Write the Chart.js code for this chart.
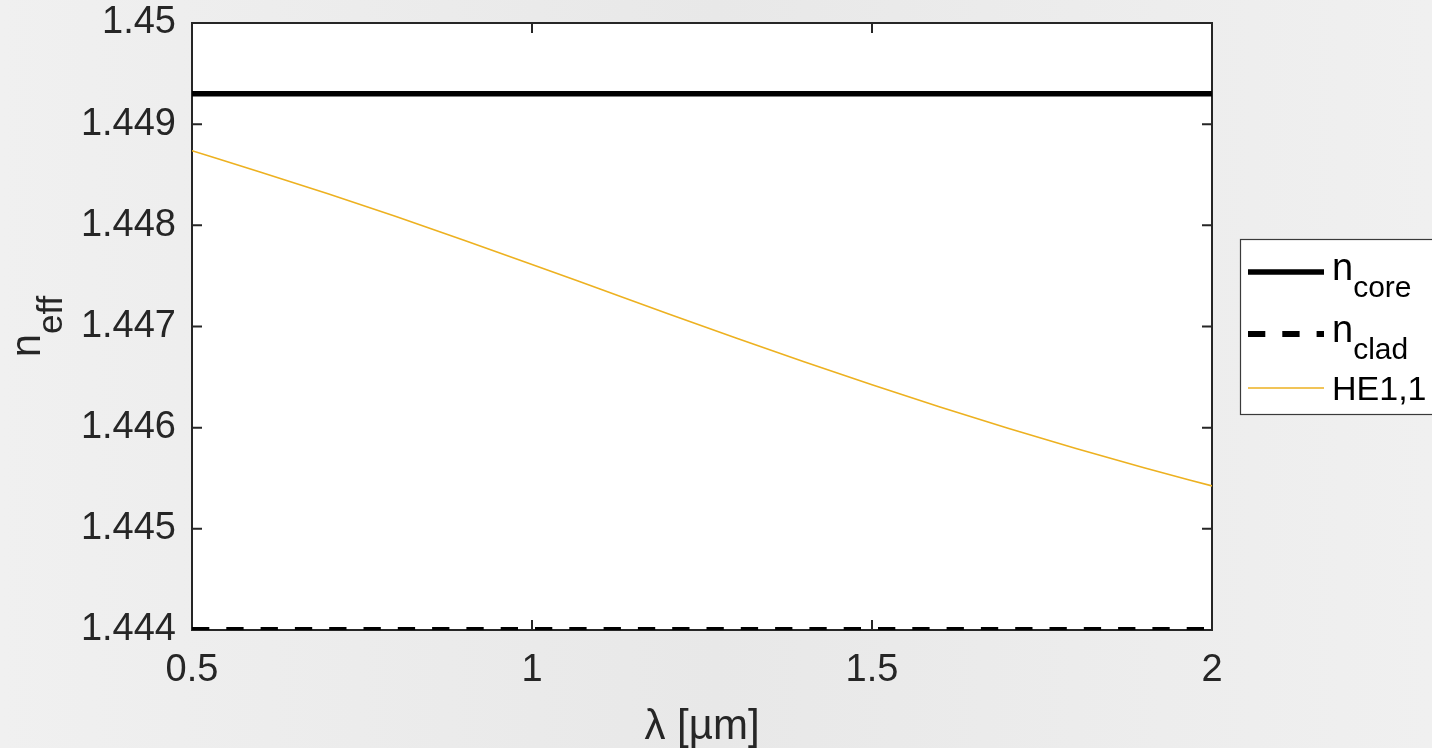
<!DOCTYPE html>
<html><head><meta charset="utf-8">
<script src="https://cdn.jsdelivr.net/npm/chart.js@4"></script>
<style>
html,body{margin:0;padding:0;background:#ececec;overflow:hidden}
#wrap{width:1432px;height:748px;position:relative}
canvas{display:block}
</style>
</head><body><div id="wrap"><canvas id="c" width="1432" height="748"></canvas></div>
<script>
// ---- data ----
const wavelength = [0.5, 0.6, 0.7, 0.8, 0.9, 1.0, 1.1, 1.2, 1.3, 1.4, 1.5, 1.6, 1.7, 1.8, 1.9, 2.0];
const nCoreValue = 1.4493;
const nCladValue = 1.444;
const he11 = [1.448738, 1.448528, 1.448313, 1.448088, 1.447853, 1.447613, 1.447370, 1.447127,
              1.446887, 1.446652, 1.446424, 1.446204, 1.445994, 1.445794, 1.445604, 1.445424];
const xTicks = [0.5, 1, 1.5, 2];
const yTicks = [1.444, 1.445, 1.446, 1.447, 1.448, 1.449, 1.45];
const seriesLabels = ['n_{core}', 'n_{clad}', 'HE1,1'];
const xTitle = 'λ [µm]';
const yTitle = 'n_{eff}';

const FONT = '"Liberation Sans", Arial, Helvetica, sans-serif';
const AX = '#262626';

function fmt(v){ return String(parseFloat(Number(v).toFixed(4))); }

function parseSub(s){
  const m = s.match(/^(.*?)_\{(.*)\}$/);
  return m ? {main:m[1], sub:m[2]} : {main:s, sub:''};
}

const bgPlugin = {
  id:'bg',
  beforeDraw(chart){
    const {ctx, chartArea:a} = chart;
    ctx.save();
    const g = ctx.createLinearGradient(0,0,chart.width,0);
    g.addColorStop(0,'#f0f0f0'); g.addColorStop(0.5,'#e8e8e8'); g.addColorStop(1,'#f0f0f0');
    ctx.fillStyle = g;
    ctx.fillRect(0,0,chart.width,chart.height);
    ctx.fillStyle = '#ffffff';
    ctx.fillRect(a.left,a.top,a.right-a.left,a.bottom-a.top);
    ctx.restore();
  }
};

const boxPlugin = {
  id:'box',
  beforeDatasetsDraw(chart){
    const {ctx, chartArea:a, scales:{x,y}} = chart;
    ctx.save();
    ctx.strokeStyle = AX; ctx.lineWidth = 2;
    ctx.strokeRect(a.left,a.top,a.right-a.left,a.bottom-a.top);
    const L = 10;
    ctx.beginPath();
    x.ticks.forEach(t=>{
      const px = x.getPixelForValue(t.value);
      ctx.moveTo(px,a.bottom); ctx.lineTo(px,a.bottom-L);
      ctx.moveTo(px,a.top); ctx.lineTo(px,a.top+L);
    });
    y.ticks.forEach(t=>{
      const py = y.getPixelForValue(t.value);
      ctx.moveTo(a.left,py); ctx.lineTo(a.left+L,py);
      ctx.moveTo(a.right,py); ctx.lineTo(a.right-L,py);
    });
    ctx.stroke();
    ctx.restore();
  }
};

const titlePlugin = {
  id:'titles',
  afterDraw(chart){
    const {ctx, chartArea:a} = chart;
    ctx.save();
    ctx.fillStyle = AX;
    ctx.font = '42px ' + FONT;
    ctx.textAlign = 'center'; ctx.textBaseline = 'alphabetic';
    ctx.fillText(xTitle, (a.left+a.right)/2, 739);
    const p = parseSub(yTitle);
    const mainF = '42px ' + FONT, subF = '35px ' + FONT;
    ctx.font = mainF; const w1 = ctx.measureText(p.main).width;
    ctx.font = subF; const w2 = ctx.measureText(p.sub).width;
    ctx.translate(40, (a.top+a.bottom)/2);
    ctx.rotate(-Math.PI/2);
    ctx.textAlign = 'left';
    const x0 = -(w1+w2)/2;
    ctx.font = mainF; ctx.fillText(p.main, x0, 0);
    ctx.font = subF; ctx.fillText(p.sub, x0+w1, 22);
    ctx.restore();
  }
};

const legendPlugin = {
  id:'mlegend',
  afterDraw(chart){
    const {ctx} = chart;
    ctx.save();
    const bx = 1240.5, by = 239.5, bw = 220, bh = 175;
    ctx.fillStyle = '#ffffff';
    ctx.fillRect(bx,by,bw,bh);
    ctx.strokeStyle = '#3a3a3a'; ctx.lineWidth = 1.2;
    ctx.strokeRect(bx,by,bw,bh);
    const lineY = [272, 334, 388];
    const textY = [280, 342, 400];
    chart.data.datasets.forEach((ds,i)=>{
      ctx.save();
      ctx.strokeStyle = ds.borderColor;
      ctx.lineWidth = ds.borderWidth;
      ctx.setLineDash(ds.borderDash || []);
      ctx.beginPath(); ctx.moveTo(1248, lineY[i]); ctx.lineTo(1324, lineY[i]); ctx.stroke();
      ctx.restore();
      const p = parseSub(ds.label);
      ctx.fillStyle = '#000';
      ctx.textAlign = 'left'; ctx.textBaseline = 'alphabetic';
      ctx.font = (p.sub ? '38px ' : '34px ') + FONT;
      ctx.fillText(p.main, 1332, textY[i]);
      const w = ctx.measureText(p.main).width;
      if (p.sub){ ctx.font = '30px ' + FONT; ctx.fillText(p.sub, 1332+w, textY[i]+17); }
    });
    ctx.restore();
  }
};

const ctx = document.getElementById('c').getContext('2d');
new Chart(ctx, {
  type:'line',
  data:{
    datasets:[
      {label:seriesLabels[0], data:wavelength.map(x=>({x, y:nCoreValue})), borderColor:'#000000', borderWidth:5.5, pointRadius:0, clip:0},
      {label:seriesLabels[1], data:wavelength.map(x=>({x, y:nCladValue})), borderColor:'#000000', borderWidth:6, borderDash:[17.3,17], borderCapStyle:'butt', pointRadius:0, clip:0},
      {label:seriesLabels[2], data:wavelength.map((x,i)=>({x, y:he11[i]})), borderColor:'#EDB120', borderWidth:1.6, pointRadius:0, cubicInterpolationMode:'monotone', clip:0}
    ]
  },
  options:{
    responsive:false, animation:false, devicePixelRatio:1,
    layout:{padding:{left:0, top:23, right:220, bottom:0}},
    plugins:{legend:{display:false}, tooltip:{enabled:false}},
    scales:{
      x:{
        type:'linear', min:0.5, max:2,
        afterBuildTicks(s){ s.ticks = xTicks.map(v=>({value:v})); },
        afterFit(s){ s.height = 118; s.paddingLeft = 0; s.paddingRight = 0; },
        grid:{display:false, drawTicks:false}, border:{display:false},
        ticks:{font:{family:FONT, size:38}, color:AX, padding:18, maxRotation:0, callback:v=>fmt(v)}
      },
      y:{
        type:'linear', min:1.444, max:1.45,
        afterBuildTicks(s){ s.ticks = yTicks.map(v=>({value:v})); },
        afterFit(s){ s.width = 192; s.paddingTop = 0; s.paddingBottom = 0; },
        grid:{display:false, drawTicks:false}, border:{display:false},
        ticks:{font:{family:FONT, size:38}, color:AX, padding:16, callback:v=>fmt(v)}
      }
    }
  },
  plugins:[bgPlugin, boxPlugin, titlePlugin, legendPlugin]
});
</script>
</body></html>
